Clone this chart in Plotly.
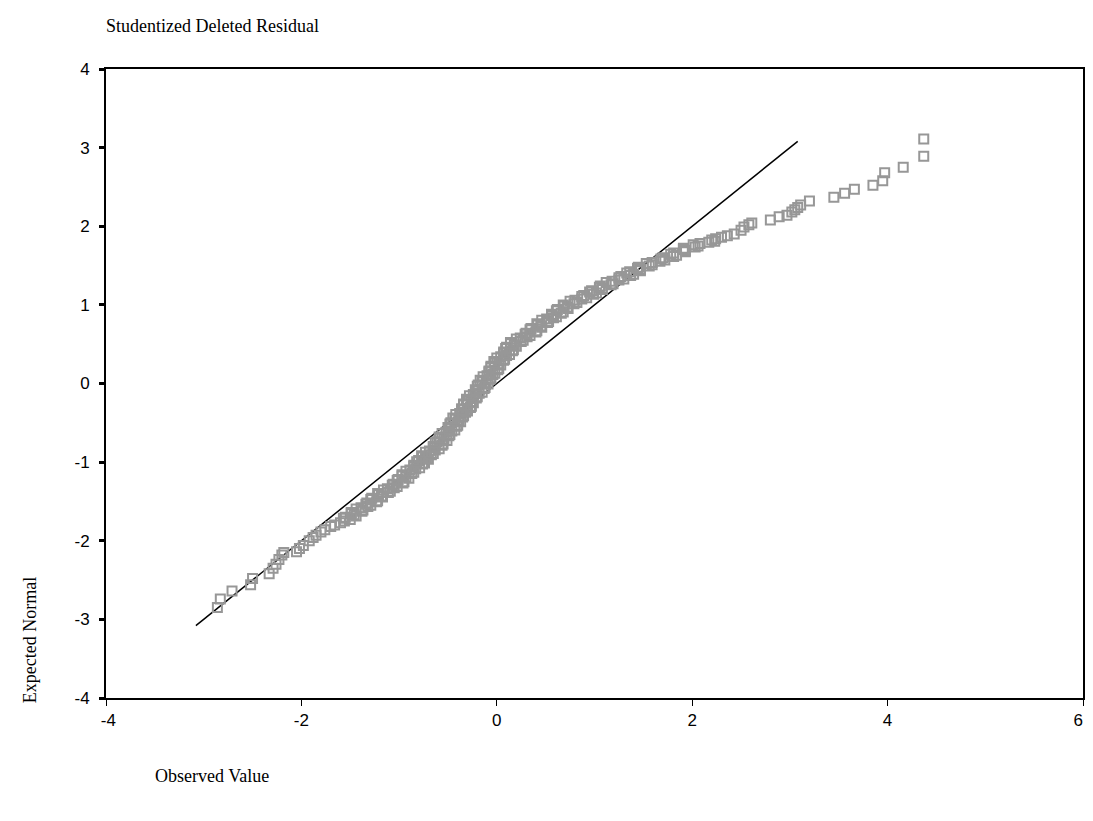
import plotly.graph_objects as go

# Lower tail (observed value, expected normal)
low_obs = [-2.86, -2.83, -2.71, -2.52, -2.50, -2.33, -2.29, -2.26, -2.23, -2.20, -2.18, -2.05,
           -2.02, -1.98, -1.92, -1.88, -1.85, -1.80, -1.76, -1.70, -1.66, -1.60, -1.56]
low_exp = [-2.85, -2.74, -2.64, -2.56, -2.48, -2.42, -2.35, -2.30, -2.24, -2.18, -2.15, -2.14,
           -2.10, -2.06, -2.00, -1.96, -1.93, -1.89, -1.86, -1.82, -1.80, -1.77, -1.75]

# Dense central band (first half of the points)
mid_obs = [-1.50, -1.55, -1.46, -1.49, -1.37, -1.39, -1.29, -1.33, -1.22, -1.28,
           -1.18, -1.22, -1.09, -1.12, -1.02, -1.06, -0.95, -1.01, -0.93, -0.97,
           -0.85, -0.89, -0.79, -0.85, -0.74, -0.80, -0.72, -0.77, -0.65, -0.69,
           -0.59, -0.65, -0.55, -0.61, -0.54, -0.59, -0.48, -0.52, -0.43, -0.50,
           -0.40, -0.47, -0.39, -0.45, -0.34, -0.38, -0.30, -0.36, -0.26, -0.34,
           -0.26, -0.31, -0.20, -0.24, -0.15, -0.22, -0.12, -0.19, -0.11, -0.17,
           -0.06, -0.10, -0.02, -0.08, 0.02, -0.06, 0.02, -0.03, 0.08, 0.04,
           0.13, 0.07, 0.17, 0.10, 0.18, 0.14, 0.27, 0.24, 0.34, 0.30,
           0.41, 0.35, 0.45, 0.41, 0.53, 0.51, 0.61, 0.56, 0.68, 0.62,
           0.72, 0.68, 0.82, 0.80, 0.92, 0.89, 1.02, 0.97, 1.08, 1.06,
           1.19, 1.18, 1.30, 1.27, 1.40, 1.36, 1.47, 1.45, 1.59, 1.59,
           1.72, 1.70, 1.84, 1.81, 1.93, 1.91, 2.06, 2.08, 2.23]
mid_exp = [-1.73, -1.70, -1.67, -1.64, -1.61, -1.58, -1.55, -1.52, -1.49, -1.46,
           -1.43, -1.40, -1.37, -1.34, -1.31, -1.28, -1.25, -1.22, -1.19, -1.16,
           -1.13, -1.10, -1.07, -1.04, -1.01, -0.98, -0.95, -0.92, -0.89, -0.86,
           -0.83, -0.80, -0.77, -0.74, -0.71, -0.68, -0.65, -0.62, -0.59, -0.56,
           -0.53, -0.50, -0.47, -0.44, -0.41, -0.38, -0.35, -0.32, -0.29, -0.26,
           -0.23, -0.20, -0.17, -0.14, -0.11, -0.08, -0.05, -0.02, 0.01, 0.04,
           0.07, 0.10, 0.13, 0.16, 0.19, 0.22, 0.25, 0.28, 0.31, 0.34,
           0.37, 0.40, 0.43, 0.46, 0.49, 0.52, 0.55, 0.58, 0.61, 0.64,
           0.67, 0.70, 0.73, 0.76, 0.79, 0.82, 0.85, 0.88, 0.91, 0.94,
           0.97, 1.00, 1.03, 1.06, 1.09, 1.12, 1.15, 1.18, 1.21, 1.24,
           1.27, 1.30, 1.33, 1.36, 1.39, 1.42, 1.45, 1.48, 1.51, 1.54,
           1.57, 1.60, 1.63, 1.66, 1.69, 1.72, 1.75, 1.78, 1.81]

# Dense central band (second half of the points)
mid2_obs = [-1.57, -1.44, -1.49, -1.38, -1.44, -1.32, -1.34, -1.23, -1.29, -1.17,
            -1.21, -1.11, -1.16, -1.05, -1.07, -0.96, -1.02, -0.90, -0.97, -0.87,
            -0.93, -0.83, -0.85, -0.76, -0.82, -0.70, -0.76, -0.67, -0.73, -0.63,
            -0.65, -0.56, -0.63, -0.51, -0.58, -0.49, -0.56, -0.46, -0.49, -0.41,
            -0.48, -0.37, -0.43, -0.35, -0.42, -0.32, -0.36, -0.27, -0.34, -0.24,
            -0.30, -0.21, -0.28, -0.18, -0.21, -0.13, -0.20, -0.09, -0.15, -0.07,
            -0.14, -0.04, -0.08, 0.01, -0.06, 0.04, -0.02, 0.07, 0.00, 0.10,
            0.07, 0.16, 0.09, 0.20, 0.14, 0.25, 0.20, 0.31, 0.29, 0.40,
            0.34, 0.46, 0.42, 0.52, 0.46, 0.58, 0.56, 0.66, 0.61, 0.73,
            0.69, 0.79, 0.75, 0.87, 0.87, 0.99, 0.95, 1.08, 1.05, 1.17,
            1.12, 1.25, 1.25, 1.37, 1.33, 1.47, 1.44, 1.56, 1.53, 1.67,
            1.68, 1.81, 1.78, 1.93, 1.91, 2.03, 2.01, 2.17, 2.20]
mid2_exp = [-1.715, -1.685, -1.655, -1.625, -1.595, -1.565, -1.535, -1.505, -1.475, -1.445,
            -1.415, -1.385, -1.355, -1.325, -1.295, -1.265, -1.235, -1.205, -1.175, -1.145,
            -1.115, -1.085, -1.055, -1.025, -0.995, -0.965, -0.935, -0.905, -0.875, -0.845,
            -0.815, -0.785, -0.755, -0.725, -0.695, -0.665, -0.635, -0.605, -0.575, -0.545,
            -0.515, -0.485, -0.455, -0.425, -0.395, -0.365, -0.335, -0.305, -0.275, -0.245,
            -0.215, -0.185, -0.155, -0.125, -0.095, -0.065, -0.035, -0.005, 0.025, 0.055,
            0.085, 0.115, 0.145, 0.175, 0.205, 0.235, 0.265, 0.295, 0.325, 0.355,
            0.385, 0.415, 0.445, 0.475, 0.505, 0.535, 0.565, 0.595, 0.625, 0.655,
            0.685, 0.715, 0.745, 0.775, 0.805, 0.835, 0.865, 0.895, 0.925, 0.955,
            0.985, 1.015, 1.045, 1.075, 1.105, 1.135, 1.165, 1.195, 1.225, 1.255,
            1.285, 1.315, 1.345, 1.375, 1.405, 1.435, 1.465, 1.495, 1.525, 1.555,
            1.585, 1.615, 1.645, 1.675, 1.705, 1.735, 1.765, 1.795, 1.825]

# Upper tail
high_obs = [2.24, 2.30, 2.36, 2.43, 2.50, 2.53, 2.58, 2.61, 2.80, 2.89, 2.97, 3.02, 3.05,
            3.08, 3.11, 3.20, 3.45, 3.56, 3.66, 3.85, 3.95, 3.97, 4.16, 4.37, 4.37]
high_exp = [1.84, 1.86, 1.88, 1.90, 1.95, 1.99, 2.02, 2.04, 2.08, 2.12, 2.14, 2.18, 2.21,
            2.24, 2.27, 2.32, 2.37, 2.42, 2.47, 2.52, 2.58, 2.68, 2.75, 2.89, 3.11]

# Reference line
line_x = [-3.08, 3.08]
line_y = [-3.08, 3.08]

x_ticks = [-4, -2, 0, 2, 4, 6]
x_ticktext = ["\u00a0-4", "-2", "0", "2", "4", "6\u00a0\u00a0"]
y_ticks = [-4, -3, -2, -1, 0, 1, 2, 3, 4]

obs = low_obs + mid_obs + mid2_obs + high_obs
exp = low_exp + mid_exp + mid2_exp + high_exp

fig = go.Figure()
fig.add_trace(go.Scatter(x=line_x, y=line_y, mode="lines",
                         line=dict(color="black", width=1.5), showlegend=False))
fig.add_trace(go.Scatter(x=obs, y=exp, mode="markers",
                         marker=dict(symbol="square-open", size=9, color="#979797",
                                     line=dict(width=2)),
                         showlegend=False))

tickfont = dict(family="Liberation Sans, Arial, sans-serif", size=17, color="black")
fig.update_xaxes(range=[-4, 6], tickvals=x_ticks, ticktext=x_ticktext,
                 showgrid=False, zeroline=False, showline=True, linecolor="black",
                 linewidth=2, mirror=True, ticks="outside", ticklen=6, tickwidth=1,
                 tickcolor="black", tickfont=tickfont, automargin=False,
                 ticklabeloverflow="allow")
fig.update_yaxes(range=[-4, 4], tickvals=y_ticks, ticktext=[str(t) for t in y_ticks],
                 showgrid=False, zeroline=False, showline=True, linecolor="black",
                 linewidth=2, mirror=True, ticks="outside", ticklen=5, tickwidth=3,
                 tickcolor="black", tickfont=tickfont, automargin=False,
                 ticklabelstandoff=6)

serif = dict(family="Liberation Serif, Times New Roman, serif", size=18, color="black")
# The page body has an 8 px default margin, so the figure is sized to fit inside it.
fig.update_layout(
    width=1085, height=805,
    margin=dict(l=98, r=10, t=61, b=115),
    plot_bgcolor="white", paper_bgcolor="white",
    annotations=[
        dict(text="Studentized Deleted Residual", xref="paper", yref="paper",
             x=0, y=1.0, yshift=55, xshift=-2, xanchor="left", yanchor="top",
             showarrow=False, font=serif),
        dict(text="Observed Value", xref="paper", yref="paper",
             x=0.048, y=0, yshift=-66, xanchor="left", yanchor="top",
             showarrow=False, font=serif),
        dict(text="Expected Normal", xref="paper", yref="paper",
             x=0, y=0.092, xshift=-76, textangle=-90,
             xanchor="center", yanchor="middle", showarrow=False, font=serif),
    ],
)

fig.write_html("out.html")
